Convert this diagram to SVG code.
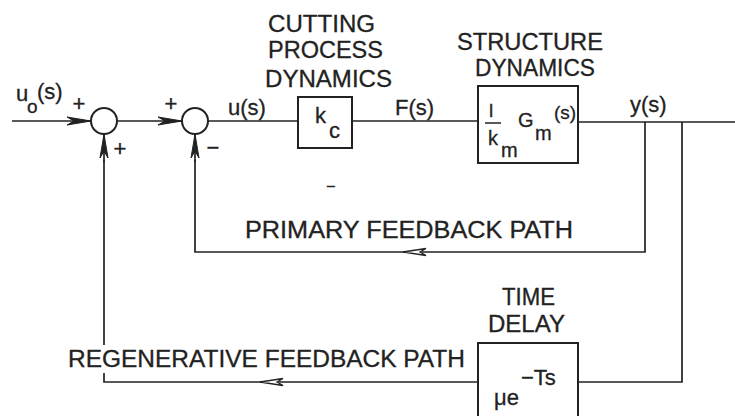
<svg xmlns="http://www.w3.org/2000/svg" width="735" height="416" viewBox="0 0 735 416">
<style>
  .ln{fill:none;stroke:#222;stroke-width:1.7}
  .bx{fill:none;stroke:#222;stroke-width:2}
  .t{font-family:"Liberation Sans",Arial,sans-serif;fill:#222;stroke:#222;stroke-width:0.3}
  .big{font-size:23px}
  .lab{font-size:22px}
  .sm{font-size:20px}
</style>
<defs>
  <marker id="af" markerUnits="userSpaceOnUse" markerWidth="30" markerHeight="12" refX="24" refY="5" orient="auto" viewBox="0 0 30 10">
    <path d="M0,1 L24,5 L0,9 L7,5 Z" fill="#222" stroke="#222" stroke-width="1"/>
  </marker>
  <marker id="ao" markerUnits="userSpaceOnUse" markerWidth="30" markerHeight="12" refX="24" refY="5" orient="auto" viewBox="0 0 30 10">
    <path d="M1,1.5 L24,5 L1,8.5 L7,5 Z" fill="#fff" stroke="#222" stroke-width="1.3"/>
  </marker>
</defs>

<g id="connectors">
  <path class="ln" d="M12,121 H91" marker-end="url(#af)"/>
  <path class="ln" d="M117,121 H182" marker-end="url(#af)"/>
  <path class="ln" d="M208,121 H298"/>
  <path class="ln" d="M352,121 H478"/>
  <path class="ln" d="M578,122 H735"/>
  <path class="ln" d="M645,122 V252 H403" marker-end="url(#ao)"/>
  <path class="ln" d="M405,252 H195 V160"/>
  <path class="ln" d="M195,162 V134" marker-end="url(#af)"/>
  <path class="ln" d="M682,122 V382 H578"/>
  <path class="ln" d="M478,382 H260" marker-end="url(#ao)"/>
  <path class="ln" d="M262,382 H104 V373"/>
  <path class="ln" d="M104,345 V160"/>
  <path class="ln" d="M104,162 V134" marker-end="url(#af)"/>
</g>

<g id="sum1">
  <circle cx="104" cy="121" r="13" class="bx"/>
  <text class="t lab" x="79" y="111" text-anchor="middle">+</text>
  <text class="t lab" x="120" y="156" text-anchor="middle">+</text>
</g>
<g id="sum2">
  <circle cx="195" cy="121" r="13" class="bx"/>
  <text class="t lab" x="171" y="111" text-anchor="middle">+</text>
  <text class="t lab" x="213" y="155" text-anchor="middle">−</text>
</g>

<g id="input">
  <text class="t lab" x="16" y="101">u</text>
  <text class="t" x="27" y="113" font-size="19">o</text>
  <text class="t lab" x="37" y="99">(s)</text>
</g>
<g id="u-label"><text class="t lab" x="228" y="115">u(s)</text></g>
<g id="F-label"><text class="t lab" x="395" y="115">F(s)</text></g>
<g id="y-label"><text class="t lab" x="630" y="112">y(s)</text></g>

<g id="cutting">
  <text class="t big" x="268" y="32" textLength="107" lengthAdjust="spacingAndGlyphs">CUTTING</text>
  <text class="t big" x="268" y="58" textLength="115" lengthAdjust="spacingAndGlyphs">PROCESS</text>
  <text class="t big" x="265" y="87" textLength="127" lengthAdjust="spacingAndGlyphs">DYNAMICS</text>
  <rect x="298" y="97" width="54" height="51" class="bx"/>
  <text class="t lab" x="315" y="123">k</text>
  <text class="t lab" x="329" y="138">c</text>
  <text class="t" x="331" y="190" font-size="14" text-anchor="middle">–</text>
</g>

<g id="structure">
  <text class="t big" x="457" y="50" textLength="146" lengthAdjust="spacingAndGlyphs">STRUCTURE</text>
  <text class="t big" x="475" y="76" textLength="120" lengthAdjust="spacingAndGlyphs">DYNAMICS</text>
  <rect x="478" y="86" width="100" height="77" class="bx"/>
  <text class="t" x="489" y="117" font-size="19">l</text>
  <line x1="485" y1="123" x2="501" y2="123" stroke="#222" stroke-width="1.5"/>
  <text class="t sm" x="488" y="145">k</text>
  <text class="t sm" x="501" y="157">m</text>
  <text class="t sm" x="518" y="127">G</text>
  <text class="t sm" x="535" y="140">m</text>
  <text class="t" x="554" y="119" font-size="19">(s)</text>
</g>

<g id="delay">
  <text class="t big" x="502" y="305" textLength="53" lengthAdjust="spacingAndGlyphs">TIME</text>
  <text class="t big" x="488" y="332" textLength="77" lengthAdjust="spacingAndGlyphs">DELAY</text>
  <rect x="478" y="343" width="100" height="80" class="bx"/>
  <text class="t lab" x="494" y="405">μe</text>
  <text class="t lab" x="521" y="385">−Ts</text>
</g>

<g id="labels">
  <text class="t big" x="245" y="238" textLength="328" lengthAdjust="spacingAndGlyphs">PRIMARY FEEDBACK PATH</text>
  <text class="t big" x="68" y="367" textLength="397" lengthAdjust="spacingAndGlyphs">REGENERATIVE FEEDBACK PATH</text>
</g>
</svg>
